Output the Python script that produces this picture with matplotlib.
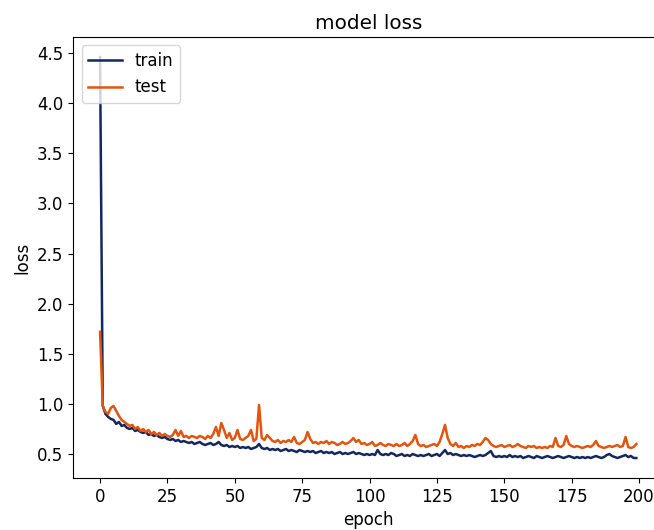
import matplotlib.pyplot as plt

#loss values, one per epoch
train_loss = [
    4.46, 0.98, 0.90, 0.87, 0.85, 0.84, 0.80, 0.82, 0.78, 0.79,
    0.76, 0.75, 0.76, 0.73, 0.74, 0.72, 0.71, 0.72, 0.69, 0.70,
    0.68, 0.69, 0.67, 0.66, 0.67, 0.65, 0.64, 0.65, 0.63, 0.64,
    0.62, 0.63, 0.62, 0.61, 0.62, 0.60, 0.61, 0.62, 0.60, 0.59,
    0.60, 0.61, 0.59, 0.60, 0.62, 0.59, 0.58, 0.59, 0.57, 0.58,
    0.57, 0.58, 0.56, 0.57, 0.56, 0.57, 0.55, 0.56, 0.57, 0.60,
    0.56, 0.55, 0.56, 0.54, 0.55, 0.54, 0.55, 0.53, 0.54, 0.55,
    0.53, 0.54, 0.53, 0.52, 0.54, 0.53, 0.52, 0.53, 0.52, 0.53,
    0.51, 0.52, 0.53, 0.51, 0.52, 0.51, 0.52, 0.50, 0.51, 0.52,
    0.50, 0.51, 0.50, 0.51, 0.52, 0.50, 0.51, 0.50, 0.49, 0.50,
    0.49, 0.50, 0.49, 0.54, 0.50, 0.49, 0.50, 0.49, 0.51, 0.50,
    0.48, 0.49, 0.50, 0.48, 0.49, 0.48, 0.50, 0.49, 0.48, 0.49,
    0.48, 0.49, 0.50, 0.48, 0.49, 0.50, 0.48, 0.51, 0.54, 0.50,
    0.51, 0.49, 0.50, 0.49, 0.48, 0.49, 0.48, 0.49, 0.48, 0.47,
    0.48, 0.49, 0.48, 0.49, 0.51, 0.53, 0.48, 0.47, 0.48, 0.47,
    0.48, 0.47, 0.49, 0.47, 0.48, 0.47, 0.48, 0.46, 0.47, 0.48,
    0.47, 0.46, 0.48, 0.47, 0.46, 0.47, 0.48, 0.47, 0.46, 0.47,
    0.48, 0.47, 0.46, 0.47, 0.48, 0.47, 0.46, 0.47, 0.46, 0.47,
    0.46, 0.47, 0.46, 0.47, 0.48, 0.47, 0.46, 0.47, 0.49, 0.50,
    0.48, 0.47, 0.46, 0.47, 0.48, 0.49, 0.47, 0.48, 0.46, 0.46,
]

test_loss = [
    1.72, 0.98, 0.92, 0.90, 0.96, 0.98, 0.93, 0.88, 0.84, 0.82,
    0.80, 0.78, 0.79, 0.75, 0.77, 0.73, 0.75, 0.72, 0.74, 0.70,
    0.72, 0.69, 0.71, 0.68, 0.70, 0.68, 0.67, 0.69, 0.74, 0.68,
    0.73, 0.67, 0.68, 0.66, 0.68, 0.67, 0.66, 0.68, 0.67, 0.65,
    0.68, 0.66, 0.70, 0.77, 0.68, 0.81, 0.74, 0.66, 0.71, 0.64,
    0.66, 0.74, 0.65, 0.64, 0.66, 0.68, 0.74, 0.63, 0.65, 0.99,
    0.66, 0.64, 0.69, 0.66, 0.63, 0.62, 0.64, 0.61, 0.63, 0.62,
    0.64, 0.62, 0.67, 0.61, 0.60, 0.62, 0.64, 0.72, 0.65, 0.61,
    0.62, 0.60, 0.62, 0.61, 0.63, 0.60, 0.62, 0.61, 0.59, 0.60,
    0.62, 0.60, 0.61, 0.63, 0.66, 0.62, 0.64, 0.60, 0.61, 0.59,
    0.60, 0.62, 0.58, 0.59, 0.61, 0.59, 0.58, 0.60, 0.59, 0.58,
    0.60, 0.58, 0.59, 0.61, 0.58, 0.60, 0.63, 0.69, 0.60, 0.58,
    0.59, 0.57, 0.58, 0.59, 0.60, 0.58, 0.62, 0.70, 0.79, 0.66,
    0.60, 0.58, 0.61, 0.57, 0.58, 0.56, 0.58, 0.57, 0.59, 0.58,
    0.60, 0.59, 0.62, 0.66, 0.64, 0.60, 0.58, 0.57, 0.58, 0.59,
    0.57, 0.58, 0.59, 0.57, 0.58, 0.60, 0.58, 0.57, 0.56, 0.58,
    0.57, 0.58, 0.56, 0.57, 0.56, 0.57, 0.56, 0.58, 0.57, 0.66,
    0.58, 0.57, 0.59, 0.68, 0.60, 0.58, 0.57, 0.58, 0.57, 0.56,
    0.57, 0.58, 0.57, 0.59, 0.63, 0.58, 0.57, 0.56, 0.57, 0.58,
    0.57, 0.58, 0.59, 0.57, 0.58, 0.67, 0.57, 0.56, 0.57, 0.60,
]

epochs = list(range(len(train_loss)))

plt.rcParams['font.size'] = 12

fig = plt.figure(figsize=(6.54, 5.30), dpi=100)
#axes box placed to match the cropped screenshot (right edge runs off the image)
ax = fig.add_axes([0.112, 0.098, 0.902, 0.832])

ax.plot(epochs, train_loss, color='#14285e', linewidth=1.8, label='train')
ax.plot(epochs, test_loss, color='#e0560f', linewidth=1.8, label='test')

ax.set_xlim(-9.95, 208.95)
ax.set_ylim(0.26, 4.66)
ax.set_xticks([0, 25, 50, 75, 100, 125, 150, 175, 200])
ax.set_yticks([0.5, 1.0, 1.5, 2.0, 2.5, 3.0, 3.5, 4.0, 4.5])

ax.set_title('model loss')
ax.set_xlabel('epoch')
ax.set_ylabel('loss')
ax.legend(loc='upper left')

fig.savefig('out.png', dpi=100)
